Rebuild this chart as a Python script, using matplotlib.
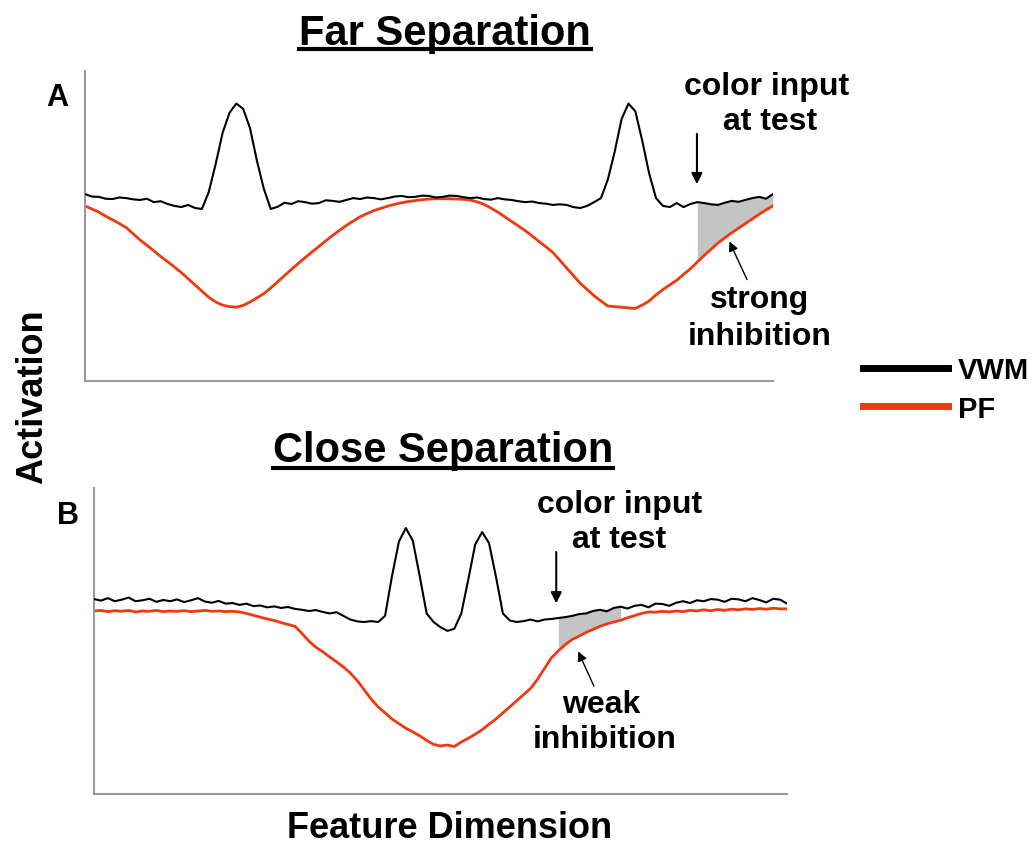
import matplotlib
matplotlib.use("Agg")
import matplotlib.pyplot as plt
import numpy as np
from matplotlib.lines import Line2D

plt.rcParams['font.family'] = ['Liberation Sans', 'DejaVu Sans']
plt.rcParams['font.weight'] = 'bold'

BLACK = '#000000'
RED = '#f2380f'
SHADE = '#c4c4c4'
SPINE = '#9a9a9a'

# feature dimension sampled 0..100
feature = list(range(101))

# far separation: two items at the ends of the field
far_vwm = [0.03, -0.05, -0.06, -0.12, -0.13, -0.08, -0.10, -0.14, -0.16, -0.12,
           -0.23, -0.20, -0.29, -0.35, -0.39, -0.32, -0.42, -0.45, 0.10, 1.00,
           2.00, 2.65, 2.95, 2.78, 2.15, 1.10, 0.20, -0.45, -0.38, -0.25,
           -0.29, -0.20, -0.23, -0.28, -0.26, -0.17, -0.19, -0.22, -0.16, -0.10,
           -0.13, -0.08, -0.10, -0.14, -0.10, -0.05, -0.03, -0.07, -0.06, -0.02,
           -0.03, -0.08, -0.06, -0.02, -0.03, -0.07, -0.10, -0.08, -0.13, -0.15,
           -0.10, -0.14, -0.16, -0.20, -0.23, -0.21, -0.26, -0.28, -0.32, -0.30,
           -0.32, -0.39, -0.42, -0.35, -0.23, -0.10, 0.50, 1.40, 2.45, 2.95,
           2.70, 1.75, 0.70, -0.10, -0.35, -0.39, -0.26, -0.39, -0.29, -0.23,
           -0.26, -0.30, -0.32, -0.25, -0.19, -0.22, -0.16, -0.10, -0.06, -0.12,
           0.03]
far_pf = [-0.35, -0.45, -0.55, -0.68, -0.80, -0.92, -1.05, -1.25, -1.45, -1.62,
          -1.80, -1.98, -2.15, -2.32, -2.50, -2.70, -2.90, -3.10, -3.30, -3.45,
          -3.55, -3.60, -3.62, -3.56, -3.45, -3.32, -3.18, -3.00, -2.80, -2.60,
          -2.40, -2.21, -2.02, -1.84, -1.66, -1.48, -1.30, -1.14, -0.98, -0.84,
          -0.70, -0.60, -0.50, -0.43, -0.36, -0.30, -0.25, -0.21, -0.18, -0.15,
          -0.13, -0.12, -0.12, -0.12, -0.13, -0.14, -0.16, -0.22, -0.30, -0.42,
          -0.55, -0.70, -0.85, -1.00, -1.15, -1.32, -1.50, -1.67, -1.85, -2.10,
          -2.35, -2.60, -2.85, -3.05, -3.25, -3.42, -3.58, -3.60, -3.62, -3.64,
          -3.66, -3.55, -3.42, -3.22, -3.05, -2.90, -2.75, -2.56, -2.38, -2.16,
          -1.95, -1.75, -1.55, -1.38, -1.22, -1.07, -0.92, -0.77, -0.62, -0.48,
          -0.35]

# close separation: two items near the middle
close_vwm = [0.37, 0.32, 0.40, 0.30, 0.35, 0.42, 0.30, 0.33, 0.38, 0.28,
             0.34, 0.30, 0.36, 0.27, 0.33, 0.40, 0.29, 0.25, 0.31, 0.22,
             0.24, 0.18, 0.22, 0.14, 0.16, 0.10, 0.13, 0.08, 0.11, 0.05,
             0.02, -0.02, 0.01, -0.05, -0.10, -0.06, -0.18, -0.30, -0.36, -0.38,
             -0.35, -0.38, -0.18, 1.12, 2.25, 2.69, 2.28, 1.12, -0.10, -0.38,
             -0.55, -0.67, -0.60, -0.10, 1.00, 2.15, 2.56, 2.20, 1.10, -0.10,
             -0.33, -0.38, -0.35, -0.30, -0.36, -0.30, -0.28, -0.25, -0.22, -0.18,
             -0.12, -0.10, -0.02, 0.02, -0.03, 0.08, 0.12, 0.06, 0.15, 0.18,
             0.10, 0.22, 0.21, 0.15, 0.25, 0.30, 0.24, 0.33, 0.30, 0.37,
             0.35, 0.28, 0.38, 0.36, 0.30, 0.40, 0.34, 0.26, 0.38, 0.35,
             0.22]
close_pf = [-0.02, 0.00, -0.04, -0.01, -0.03, 0.00, -0.05, -0.02, -0.03, 0.00,
            -0.04, -0.02, -0.03, -0.01, -0.04, -0.02, 0.00, -0.03, -0.02, -0.04,
            -0.03, -0.05, -0.10, -0.16, -0.22, -0.28, -0.33, -0.40, -0.46, -0.52,
            -0.75, -1.00, -1.20, -1.35, -1.52, -1.68, -1.85, -2.05, -2.30, -2.60,
            -2.90, -3.15, -3.35, -3.55, -3.70, -3.85, -3.97, -4.10, -4.25, -4.38,
            -4.43, -4.40, -4.45, -4.30, -4.18, -4.05, -3.90, -3.72, -3.55, -3.35,
            -3.15, -2.95, -2.75, -2.55, -2.25, -1.90, -1.55, -1.32, -1.12, -0.95,
            -0.84, -0.72, -0.62, -0.52, -0.44, -0.38, -0.32, -0.24, -0.17, -0.10,
            -0.05, -0.06, -0.03, -0.05, -0.02, -0.04, 0.00, -0.02, 0.02, -0.01,
            0.03, 0.00, 0.04, 0.02, 0.05, 0.03, 0.06, 0.04, 0.07, 0.05,
            0.05]

# where the test colour lands, and the extent of the shaded inhibition
far_test = 89
far_shade_end = 100
close_test = 67
close_shade_end = 76

fig = plt.figure(figsize=(10.36, 8.45), dpi=100)
ax1 = fig.add_axes([0.0820, 0.5479, 0.6641, 0.3669])
ax2 = fig.add_axes([0.0907, 0.0592, 0.6690, 0.3621])


def draw_panel(ax, x, vwm, pf, test, shade_end):
    x = np.asarray(x)
    vwm = np.asarray(vwm)
    pf = np.asarray(pf)
    sel = (x >= test) & (x <= shade_end)
    ax.fill_between(x[sel], pf[sel], vwm[sel], color=SHADE, lw=0, zorder=1)
    ax.plot(x, pf, color=RED, lw=2.0, zorder=2, solid_joinstyle='round')
    ax.plot(x, vwm, color=BLACK, lw=1.5, zorder=3, solid_joinstyle='round')
    ax.set_xlim(0, 100)
    ax.set_ylim(-6, 4)
    ax.set_xticks([])
    ax.set_yticks([])
    for side in ('top', 'right'):
        ax.spines[side].set_visible(False)
    for side in ('left', 'bottom'):
        ax.spines[side].set_color(SPINE)
        ax.spines[side].set_linewidth(1.5)


draw_panel(ax1, feature, far_vwm, far_pf, far_test, far_shade_end)
draw_panel(ax2, feature, close_vwm, close_pf, close_test, close_shade_end)

label_kw = dict(fontsize=23, fontweight='bold', ha='center', va='baseline', clip_on=False)

# far panel annotations
ax1.text(99.1, 3.26, 'color input', **label_kw)
ax1.text(99.6, 2.13, 'at test', **label_kw)
ax1.annotate('', xy=(88.95, 0.26), xytext=(88.95, 2.06),
             arrowprops=dict(arrowstyle='-|>', color='black', lw=1.5, mutation_scale=16))
ax1.text(98.0, -3.61, 'strong', **label_kw)
ax1.text(98.0, -4.81, 'inhibition', **label_kw)
ax1.annotate('', xy=(93.5, -1.42), xytext=(96.4, -2.81),
             arrowprops=dict(arrowstyle='-|>', color='black', lw=1.0, mutation_scale=14))

# close panel annotations
ax2.text(75.8, 3.22, 'color input', **label_kw)
ax2.text(75.8, 2.07, 'at test', **label_kw)
ax2.annotate('', xy=(66.7, 0.14), xytext=(66.7, 2.0),
             arrowprops=dict(arrowstyle='-|>', color='black', lw=1.5, mutation_scale=16))
ax2.text(73.2, -3.32, 'weak', **label_kw)
ax2.text(73.7, -4.46, 'inhibition', **label_kw)
ax2.annotate('', xy=(69.7, -1.26), xytext=(72.3, -2.56),
             arrowprops=dict(arrowstyle='-|>', color='black', lw=1.0, mutation_scale=14))

# panel titles, underlined
t1 = fig.text(0.4296, 0.9467, 'Far Separation', fontsize=30, fontweight='bold',
              ha='center', va='baseline')
t2 = fig.text(0.4276, 0.4533, 'Close Separation', fontsize=30, fontweight='bold',
              ha='center', va='baseline')
fig.canvas.draw()
W, H = fig.bbox.width, fig.bbox.height
for t, uy in ((t1, 50), (t2, 469)):
    bb = t.get_window_extent()
    y = 1 - uy / H
    fig.add_artist(Line2D([bb.x0 / W, bb.x1 / W], [y, y], color='black', lw=3.0,
                          transform=fig.transFigure))

fig.text(0.055, 0.884, 'A', fontsize=22, fontweight='bold', ha='center', va='center')
fig.text(0.0656, 0.389, 'B', fontsize=22, fontweight='bold', ha='center', va='center')
fig.text(0.0319, 0.530, 'Activation', fontsize=26, fontweight='bold',
         rotation=90, ha='center', va='center')
fig.text(0.4344, 0.0201, 'Feature Dimension', fontsize=26, fontweight='bold',
         ha='center', va='center')

handles = [Line2D([], [], color=BLACK, lw=5), Line2D([], [], color=RED, lw=5)]
fig.legend(handles, ['VWM', 'PF'], loc='upper left', bbox_to_anchor=(0.833, 0.577),
           frameon=False, fontsize=21, handlelength=2.9, handletextpad=0.35,
           labelspacing=0.35, borderpad=0, borderaxespad=0)

fig.savefig('out.png', dpi=100)
